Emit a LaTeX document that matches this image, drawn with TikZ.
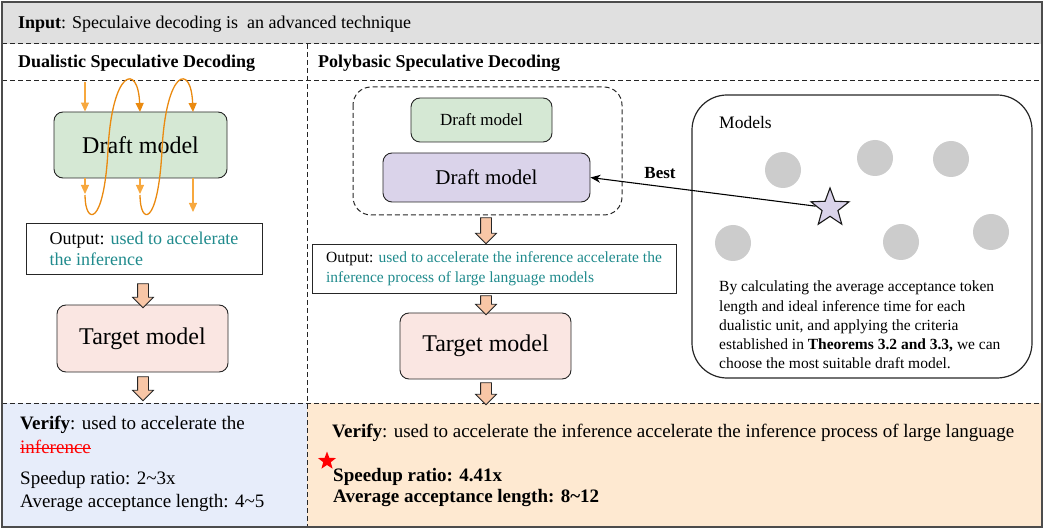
\documentclass[tikz,border=0pt]{standalone}
\usepackage{fontspec}
\setmainfont{Liberation Serif}
\usetikzlibrary{shapes.arrows,shapes.geometric,arrows.meta}
\definecolor{hdrgray}{HTML}{E0E0E0}
\definecolor{draftgreen}{HTML}{D5E8D4}
\definecolor{tgtpink}{HTML}{FAE6E2}
\definecolor{lav}{HTML}{DAD3EA}
\definecolor{peach}{HTML}{F8C6A6}
\definecolor{tealtxt}{HTML}{1F8A8C}
\definecolor{vblue}{HTML}{E7EDFA}
\definecolor{vorange}{HTML}{FEE9D1}
\definecolor{loopor}{HTML}{EA8A10}
\definecolor{flowor}{HTML}{F7A83E}
\newcommand{\fs}[1]{\fontsize{#1}{1.2\dimexpr#1pt\relax}\selectfont}
\begin{document}
\begin{tikzpicture}[x=1pt, y=-1pt,
    model/.style={draw=black!85, line width=0.9pt, rounded corners=9pt, inner sep=0pt},
    outbox/.style={draw=black!85, line width=0.9pt, inner sep=0pt, align=left},
    fatarrow/.style={single arrow, draw=black!85, fill=peach, line width=0.8pt, shape border rotate=270,
        single arrow head extend=5pt, minimum width=20pt, inner sep=5pt},
    divider/.style={draw=black!85, line width=1pt, dash pattern=on 5pt off 3pt},
    flow/.style={draw=flowor, line width=1.1pt, -{Triangle[width=8pt,length=9pt]}},
    loopline/.style={draw=loopor, line width=1.3pt, -{Triangle[width=8pt,length=9pt]}},
    modeldot/.style={circle, fill=gray!40, minimum size=36pt, inner sep=0pt},
    txt/.style={anchor=west, inner sep=0pt}
]
\useasboundingbox (0,0) rectangle (1044,529);
% bands
\fill[hdrgray] (2,2) rectangle (1042,44);
\fill[vblue] (2,403) rectangle (307,527);
\fill[vorange] (307,403) rectangle (1042,527);
\draw[divider] (2,44) -- (1042,44);
\draw[divider] (2,81) -- (1042,81);
\draw[divider] (2,403) -- (1042,403);
\draw[divider] (307,44) -- (307,527);
\draw[line width=1.4pt, draw=black!70] (2,2) rectangle (1042,527);

% titles
\node[txt, font=\fs{18}] (inp) at (18,24) {\textbf{Input}: Speculaive decoding is\ \ an advanced technique};
\node[txt, font=\fs{18}\bfseries] (hd1) at (18,63) {Dualistic Speculative Decoding};
\node[txt, font=\fs{18}\bfseries] (hd2) at (318,63) {Polybasic Speculative Decoding};

% dualistic side
\node[model, fill=draftgreen, minimum width=173pt, minimum height=66pt, font=\fs{24}] (d1) at (140.5,145) {Draft model};
\node[outbox, minimum width=236pt, minimum height=51pt, font=\fontsize{18}{21}\selectfont] (out1) at (144,248.5)
    {Output: \textcolor{tealtxt}{used to accelerate}\\\textcolor{tealtxt}{the inference}};
\node[model, fill=tgtpink, minimum width=171pt, minimum height=67pt, font=\fs{24}] (t1) at (142.5,338.5) {Target model};
\node[fatarrow, minimum height=24pt] (fa1) at (143,293) {};
\node[fatarrow, minimum height=24pt] (fa2) at (143,386) {};

\coordinate (in1) at (85,82);
\coordinate (o1) at (85,194);
\coordinate (o2) at (140,194);
\coordinate (o3) at (193,212);
\draw[flow] (in1) -- (in1 |- d1.north);
\draw[flow] (o1 |- d1.south) -- (o1);
\draw[flow] (o2 |- d1.south) -- (o2);
\draw[flow] (o3 |- d1.south) -- (o3);
\coordinate (r1) at (140,112);
\coordinate (r2) at (193,112);
\draw[loopline] (85,195) .. controls (85,225) and (104,228) .. (108,150) .. controls (112,70) and (138,62) .. (r1);
\draw[loopline] (140,195) .. controls (140,225) and (158,228) .. (162,150) .. controls (166,70) and (191,62) .. (r2);

% polybasic side
\draw[draw=black!85, line width=1pt, dash pattern=on 5pt off 3pt, rounded corners=18pt] (353,87) rectangle (622,215);
\node[model, fill=draftgreen, minimum width=141pt, minimum height=44pt, font=\fs{17}] (d2) at (481.5,120) {Draft model};
\node[model, fill=lav, minimum width=207pt, minimum height=49pt, font=\fs{21}] (pd) at (486.5,177.5) {Draft model};
\node[outbox, minimum width=364pt, minimum height=49pt, font=\fontsize{15.5}{19.5}\selectfont] (out2) at (494,268.5)
    {Output: \textcolor{tealtxt}{used to accelerate the inference accelerate the}\\\textcolor{tealtxt}{inference process of large language models}};
\node[model, fill=tgtpink, minimum width=171pt, minimum height=66pt, font=\fs{24}] (t2) at (485.5,346) {Target model};
\node[fatarrow, minimum height=26pt] (fa3) at (486,228) {};
\node[fatarrow, minimum height=19pt] (fa4) at (486,302.5) {};
\node[fatarrow, minimum height=22pt] (fa5) at (486,391) {};

% model pool
\draw[draw=black!85, line width=1.2pt, rounded corners=35pt] (692,95) rectangle (1032,378);
\node[txt, font=\fs{17.5}] (pool) at (719,123) {Models};
\foreach \i/\p in {1/{(783,170)}, 2/{(875,158)}, 3/{(951,159)}, 4/{(733,243)}, 5/{(901,242)}, 6/{(991,232)}}
    \node[modeldot] (m\i) at \p {};
\node[star, star points=5, star point ratio=2.4, draw=black!90, fill=lav, line width=1.1pt,
    minimum size=40pt, inner sep=0pt] (best) at (830,208) {};
\draw[line width=1.1pt, -{Stealth[length=10pt,width=8pt]}] (best) -- (pd.east);
\node[font=\fs{17}\bfseries] (bestlbl) at (660,173) {Best};
\node[anchor=north west, inner sep=0pt, align=left, font=\fontsize{15.5}{19.2}\selectfont] (why) at (719,281)
    {By calculating the average acceptance token\\length and ideal inference time for each\\dualistic unit, and applying the criteria\\established in \textbf{Theorems 3.2 and 3.3,} we can\\choose the most suitable draft model.};

% verify rows
\node[txt, font=\fs{19}] (v1) at (20,425) {\textbf{Verify}: used to accelerate the};
\node[txt, font=\fs{19}, text=red] (v1b) at (20,447) {inference};
\draw[red, line width=1pt] ([yshift=5pt]v1b.base west) -- ([yshift=5pt]v1b.base east);
\node[txt, font=\fs{19}] (s1) at (20,480) {Speedup ratio: 2\textasciitilde 3x};
\node[txt, font=\fs{19}] (a1) at (20,503) {Average acceptance length: 4\textasciitilde 5};
\node[txt, font=\fs{19}] (v2) at (332,433) {\textbf{Verify}: used to accelerate the inference accelerate the inference process of large language};
\node[star, star points=5, star point ratio=2.4, fill=red, minimum size=19pt, inner sep=0pt] (mark) at (327,461) {};
\node[txt, font=\fs{19}\bfseries] (s2) at (333,477) {Speedup ratio: 4.41x};
\node[txt, font=\fs{19}\bfseries] (a2) at (333,498) {Average acceptance length: 8\textasciitilde 12};
\end{tikzpicture}
\end{document}
